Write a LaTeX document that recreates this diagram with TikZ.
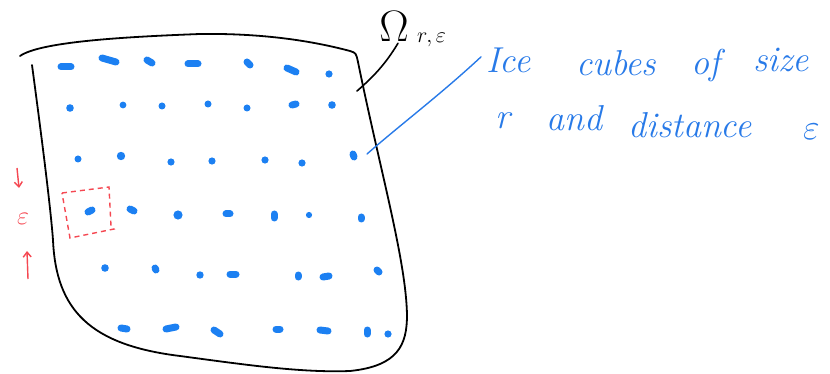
\documentclass[tikz,border=0pt]{standalone}
\usepackage{fix-cm}
\usetikzlibrary{arrows.meta}
\definecolor{dotblue}{RGB}{28,128,242}
\definecolor{txtblue}{RGB}{40,122,232}
\definecolor{mred}{RGB}{245,72,82}
\tikzset{
  outline/.style={line width=1.8pt, black, line cap=round, line join=round},
  blob/.style={line width=7pt, dotblue, line cap=round},
  dotfill/.style={fill=dotblue},
  hand/.style={txtblue, font=\fontsize{36}{42}\selectfont\itshape, inner sep=0pt, anchor=base west},
  redbox/.style={mred, line width=1.4pt, dash pattern=on 5pt off 4pt},
  redarrow/.style={mred, line width=1.4pt, -{Straight Barb[length=5pt,width=8pt]}},
}
\begin{document}
\begin{tikzpicture}[x=1pt,y=-1pt]
\useasboundingbox (0,0) rectangle (830,374);
% domain outline
\draw[outline] (20,56) .. controls (40,42) and (120,37) .. (200,34)
  .. controls (270,33) and (320,43) .. (350,51)
  .. controls (356,53) .. (358,62)
  .. controls (380,170) and (406,260) .. (407,315)
  .. controls (407,345) and (398,366) .. (350,371)
  .. controls (300,373) and (240,364) .. (180,356)
  .. controls (90,345) and (56,310) .. (53,240)
  .. controls (50,200) and (38,110) .. (32,65);
% row 1
\draw[blob] (61,67) -- (71,67);
\draw[blob] (102,58) -- (116,62);
\draw[blob] (147,60) -- (152,63);
\draw[blob] (188,64) -- (198,64);
\draw[blob] (247,62) -- (250,65);
\draw[blob] (287,68) -- (296,72);
\fill[dotfill] (329,74) circle (3.6);
% row 2
\fill[dotfill] (70,108) circle (3.8);
\fill[dotfill] (123,105) circle (3.4);
\fill[dotfill] (162,106) circle (3.5);
\fill[dotfill] (208,104) circle (3.5);
\fill[dotfill] (247,108) circle (3.5);
\draw[blob] (292,105) -- (296,104);
\fill[dotfill] (332,105) circle (3.8);
% row 3
\fill[dotfill] (78,159) circle (3.5);
\fill[dotfill] (121,156) circle (4.2);
\fill[dotfill] (171,162) circle (3.6);
\fill[dotfill] (212,161) circle (3.6);
\fill[dotfill] (265,160) circle (3.6);
\fill[dotfill] (302,163) circle (3.6);
\draw[blob] (353,154) -- (354,157);
% row 4
\draw[blob] (88,212) -- (92,210);
\draw[blob] (130,209) -- (134,211);
\fill[dotfill] (178,215) circle (4.6);
\draw[blob] (226,214) -- (230,214);
\draw[blob] (274,214) -- (274,218);
\fill[dotfill] (309,215) circle (3.1);
\draw[blob] (361,217) -- (361,219);
% row 5
\fill[dotfill] (105,268) circle (3.8);
\draw[blob] (155,268) -- (156,270);
\fill[dotfill] (200,275) circle (3.7);
\draw[blob] (230,274) -- (236,274);
\draw[blob] (298,275) -- (298,277);
\draw[blob] (323,277) -- (329,276);
\draw[blob] (377,270) -- (379,272);
% row 6
\draw[blob] (121,328) -- (127,329);
\draw[blob] (166,329) -- (176,327);
\draw[blob] (214,330) -- (220,334);
\draw[blob] (276,329) -- (280,329);
\draw[blob] (320,330) -- (328,331);
\draw[blob] (367,330) -- (367,334);
\fill[dotfill] (388,334) circle (3.6);
% red dashed cell
\draw[redbox] (62,193) -- (109,187) -- (111,226) -- (114,229) -- (70,238) -- cycle;
% epsilon with arrows
\node[mred, font=\fontsize{26}{30}\selectfont, inner sep=0pt] (eps) at (23,219) {$\varepsilon$};
\coordinate (dtop) at (17,168);
\coordinate (dbot) at (19,188);
\coordinate (ubot) at (28,279);
\coordinate (utop) at (27,251);
\draw[redarrow] (dtop) -- (dbot);
\draw[redarrow] (ubot) -- (utop);
% Omega label
\node[font=\fontsize{44}{50}\selectfont, inner sep=0pt] (om) at (394,26) {$\Omega$};
\node[font=\fontsize{22}{26}\selectfont, inner sep=0pt, anchor=west] (omsub) at (417,40) {$r,\varepsilon$};
\coordinate (omend) at (357,91);
\draw[line width=1.6pt, line cap=round] (om.south) ++(4,2) .. controls (385,65) and (372,78) .. (omend);
% blue text
\node[hand] (w1) at (486,73) {Ice};
\node[hand] (w2) at (576,76) {cubes};
\node[hand] (w3) at (691,75) {of};
\node[hand] (w4) at (753,72) {size};
\node[hand] (w5) at (495,129) {r};
\node[hand] (w6) at (546,131) {and};
\node[hand] (w7) at (628,138) {distance};
\node[hand] (w8) at (803,140) {$\varepsilon$};
\coordinate (bend) at (367,154);
\draw[txtblue, line width=1.4pt, line cap=round] (w1.west) ++(-5,-4) .. controls (440,95) and (400,125) .. (bend);
\end{tikzpicture}
\end{document}
